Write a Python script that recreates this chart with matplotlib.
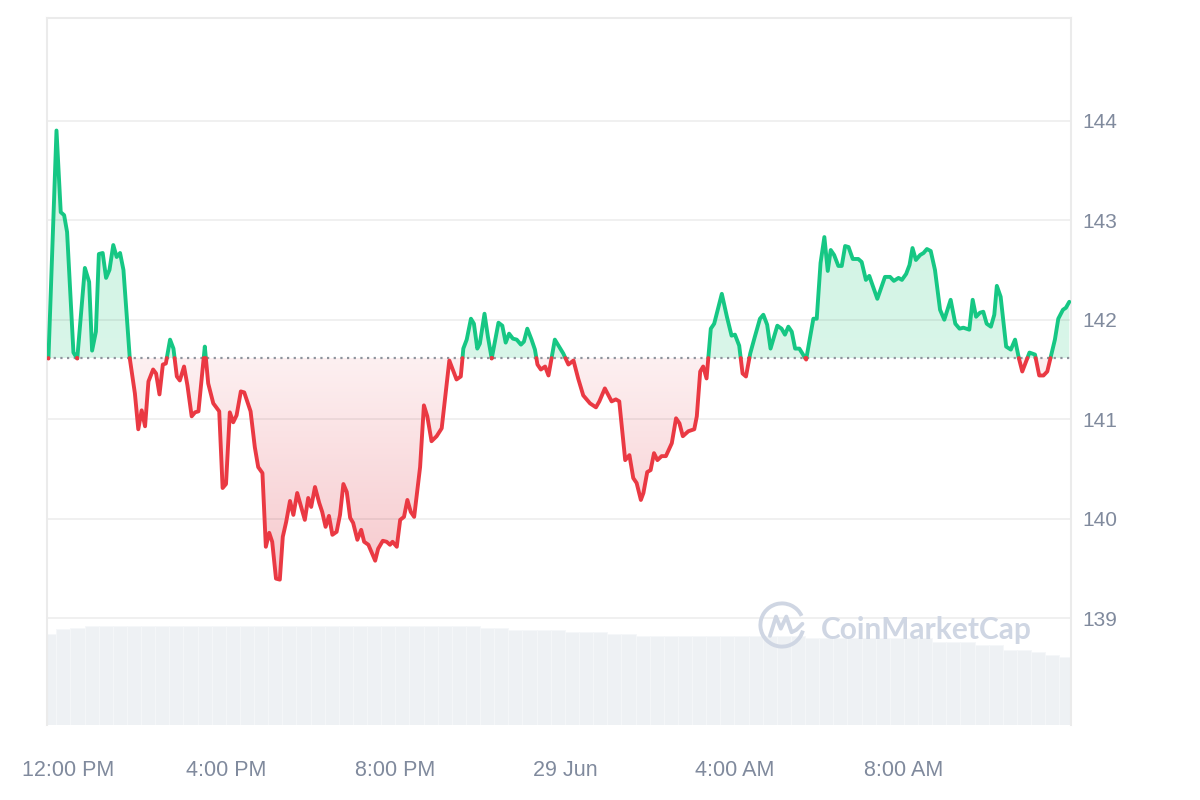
import numpy as np
import matplotlib.pyplot as plt
from matplotlib.colors import LinearSegmentedColormap
from matplotlib.patches import Arc
from matplotlib.path import Path
from matplotlib.transforms import ScaledTranslation

plt.rcParams['font.family'] = ['Liberation Sans', 'DejaVu Sans']

GREEN = '#16c784'
RED = '#ea3943'
LABEL = '#808a9d'

# price, hours since 00:00 on 28 Jun (values > 24 are 29 Jun)
hours = [11.81, 12.00, 12.10, 12.18, 12.25, 12.40, 12.49, 12.67, 12.77, 12.84,
         12.93, 13.00, 13.09, 13.17, 13.25, 13.34, 13.42, 13.50, 13.58, 13.73,
         13.85, 13.93, 14.01, 14.09, 14.17, 14.28, 14.35, 14.43, 14.51, 14.58,
         14.68, 14.76, 14.84, 14.91, 15.01, 15.09, 15.19, 15.27, 15.35, 15.50,
         15.58, 15.70, 15.84, 15.92, 16.00, 16.09, 16.17, 16.25, 16.35, 16.43,
         16.58, 16.68, 16.76, 16.86, 16.94, 17.02, 17.09, 17.18, 17.27, 17.34,
         17.42, 17.51, 17.59, 17.68, 17.76, 17.86, 17.94, 18.01, 18.10, 18.20,
         18.27, 18.35, 18.43, 18.51, 18.61, 18.69, 18.77, 18.85, 18.93, 19.00,
         19.10, 19.19, 19.26, 19.36, 19.52, 19.59, 19.70, 19.79, 19.87, 19.93,
         20.03, 20.11, 20.20, 20.28, 20.36, 20.44, 20.58, 20.67, 20.75, 20.85,
         20.97, 21.09, 21.27, 21.44, 21.54, 21.58, 21.60, 21.68, 21.78, 21.85,
         21.93, 21.99, 22.10, 22.18, 22.27, 22.43, 22.52, 22.60, 22.68, 22.77,
         22.86, 22.96, 23.03, 23.11, 23.21, 23.29, 23.35, 23.43, 23.53, 23.61,
         23.76, 23.96, 24.08, 24.20, 24.31, 24.43, 24.59, 24.73, 24.81, 24.94,
         25.10, 25.20, 25.28, 25.42, 25.52, 25.61, 25.69, 25.79, 25.85, 25.94,
         26.02, 26.10, 26.18, 26.28, 26.38, 26.52, 26.62, 26.70, 26.78, 26.91,
         27.05, 27.11, 27.19, 27.26, 27.34, 27.44, 27.52, 27.70, 27.82, 27.93,
         28.01, 28.11, 28.19, 28.27, 28.37, 28.48, 28.60, 28.68, 28.77, 28.85,
         29.01, 29.11, 29.19, 29.27, 29.35, 29.43, 29.53, 29.69, 29.86, 29.94,
         30.03, 30.12, 30.20, 30.27, 30.35, 30.45, 30.53, 30.61, 30.69, 30.79,
         30.92, 31.00, 31.10, 31.18, 31.37, 31.55, 31.67, 31.76, 31.87, 31.95,
         32.05, 32.13, 32.20, 32.28, 32.38, 32.46, 32.54, 32.63, 32.73, 32.85,
         32.95, 33.10, 33.21, 33.31, 33.40, 33.54, 33.62, 33.70, 33.79, 33.87,
         33.95, 34.05, 34.13, 34.19, 34.28, 34.41, 34.52, 34.62, 34.70, 34.79,
         34.96, 35.09, 35.19, 35.29, 35.38, 35.56, 35.64, 35.75, 35.82, 35.90]

price = [141.61, 143.90, 143.08, 143.05, 142.88, 141.67, 141.61, 142.52, 142.38, 141.69,
         141.88, 142.66, 142.67, 142.42, 142.50, 142.75, 142.63, 142.67, 142.50, 141.61,
         141.26, 140.90, 141.09, 140.93, 141.38, 141.50, 141.46, 141.25, 141.55, 141.56,
         141.80, 141.71, 141.43, 141.39, 141.53, 141.34, 141.03, 141.07, 141.08, 141.73,
         141.36, 141.16, 141.08, 140.31, 140.35, 141.07, 140.97, 141.04, 141.28, 141.27,
         141.08, 140.72, 140.52, 140.46, 139.72, 139.86, 139.77, 139.40, 139.39, 139.82,
         139.97, 140.18, 140.04, 140.26, 140.14, 139.99, 140.21, 140.12, 140.32, 140.16,
         140.07, 139.92, 140.03, 139.84, 139.87, 140.04, 140.35, 140.27, 140.01, 139.96,
         139.79, 139.89, 139.77, 139.74, 139.58, 139.70, 139.78, 139.77, 139.74, 139.77,
         139.72, 139.99, 140.02, 140.19, 140.07, 140.02, 140.52, 141.14, 141.03, 140.78,
         140.83, 140.91, 141.59, 141.40, 141.43, 141.61, 141.71, 141.80, 142.01, 141.96,
         141.71, 141.76, 142.06, 141.83, 141.61, 141.97, 141.94, 141.77, 141.86, 141.81,
         141.80, 141.75, 141.78, 141.91, 141.80, 141.70, 141.55, 141.50, 141.53, 141.44,
         141.80, 141.66, 141.55, 141.59, 141.41, 141.24, 141.16, 141.12, 141.18, 141.31,
         141.18, 141.20, 141.18, 140.59, 140.64, 140.41, 140.36, 140.19, 140.26, 140.47,
         140.49, 140.66, 140.59, 140.63, 140.63, 140.76, 141.01, 140.96, 140.83, 140.88,
         140.90, 141.03, 141.48, 141.53, 141.41, 141.91, 141.96, 142.26, 142.03, 141.84,
         141.85, 141.74, 141.46, 141.43, 141.66, 141.83, 142.01, 142.05, 141.95, 141.71,
         141.94, 141.91, 141.85, 141.93, 141.88, 141.71, 141.71, 141.60, 142.01, 142.01,
         142.57, 142.83, 142.49, 142.70, 142.65, 142.54, 142.54, 142.74, 142.73, 142.61,
         142.61, 142.58, 142.40, 142.44, 142.21, 142.43, 142.43, 142.39, 142.42, 142.40,
         142.46, 142.55, 142.72, 142.60, 142.65, 142.67, 142.71, 142.69, 142.50, 142.10,
         142.00, 142.20, 141.96, 141.91, 141.92, 141.90, 142.20, 142.03, 142.07, 142.08,
         141.96, 141.93, 142.05, 142.34, 142.23, 141.73, 141.70, 141.80, 141.63, 141.48,
         141.67, 141.65, 141.44, 141.44, 141.48, 141.80, 142.01, 142.10, 142.12, 142.18]

open_price = 141.615

# volume bars, one every 20 min starting 11:50
vol_start = 11.83
vol_step = 1 / 3
volume = [3.03, 3.20, 3.25, 3.30, 3.30, 3.30, 3.30, 3.30, 3.30, 3.30,
          3.30, 3.30, 3.30, 3.30, 3.30, 3.30, 3.30, 3.30, 3.30, 3.30,
          3.30, 3.30, 3.30, 3.30, 3.30, 3.30, 3.30, 3.30, 3.30, 3.30,
          3.30, 3.22, 3.22, 3.17, 3.17, 3.17, 3.17, 3.09, 3.09, 3.09,
          3.03, 3.03, 2.97, 2.97, 2.97, 2.97, 2.97, 2.97, 2.97, 2.97,
          2.97, 2.97, 2.97, 2.97, 2.89, 2.89, 2.89, 2.89, 2.89, 2.89,
          2.89, 2.89, 2.89, 2.78, 2.78, 2.78, 2.67, 2.67, 2.50, 2.50,
          2.45, 2.33, 2.28]

yticks = [139, 140, 141, 142, 143, 144]
xticks = [12, 16, 20, 24, 28, 32]
xlabels = ['12:00 PM', '4:00 PM', '8:00 PM', '29 Jun', '4:00 AM', '8:00 AM']

xlim = (11.776, 35.94)
ylim = (137.93, 145.03)

# split the line where it crosses the open price
t = np.array(hours)
p = np.array(price)
xs, ys = [t[0]], [p[0]]
for i in range(1, len(t)):
    a = p[i - 1] - open_price
    b = p[i] - open_price
    if a * b < 0:
        f = a / (a - b)
        xs.append(t[i - 1] + f * (t[i] - t[i - 1]))
        ys.append(open_price)
    xs.append(t[i])
    ys.append(p[i])
xs = np.array(xs)
ys = np.array(ys)

fig = plt.figure(figsize=(12, 8), dpi=100)

# volume in its own axes at the bottom
axv = fig.add_axes([47 / 1200, 75 / 800, 1024 / 1200, 99 / 800])
vx = vol_start + vol_step * np.arange(len(volume))
axv.bar(vx, volume, width=vol_step, color='#eef1f4', edgecolor='#f5f7f9', linewidth=0.6)
axv.set_xlim(xlim)
axv.set_ylim(0, 3.30)
axv.axis('off')

ax = fig.add_axes([47 / 1200, 75 / 800, 1024 / 1200, 707 / 800])
ax.patch.set_visible(False)


def gradient_fill(mask, c_bottom, c_top, y0, y1):
    coll = ax.fill_between(xs, ys, open_price, where=mask, interpolate=True,
                           color='none', linewidth=0)
    clip = Path.make_compound_path(*coll.get_paths())
    cmap = LinearSegmentedColormap.from_list('g', [c_bottom, c_top])
    grad = np.linspace(0, 1, 256).reshape(-1, 1)
    im = ax.imshow(grad, extent=[xlim[0], xlim[1], y0, y1], origin='lower',
                   aspect='auto', cmap=cmap, zorder=1)
    im.set_clip_path(clip, transform=ax.transData)


gradient_fill(ys <= open_price, '#f6c7cb', '#fdf0f1', 139.3, open_price)
gradient_fill(ys >= open_price, '#d9f6e9', '#cdf2e1', open_price, 143.95)

ax.plot(xs, np.where(ys >= open_price, ys, np.nan), color=GREEN, lw=2.8,
        solid_joinstyle='round', solid_capstyle='round', zorder=4)
ax.plot(xs, np.where(ys <= open_price, ys, np.nan), color=RED, lw=2.8,
        solid_joinstyle='round', solid_capstyle='round', zorder=4)
ax.axhline(open_price, color='#8e939c', lw=1.6, linestyle=(0, (1, 2)), zorder=3)

ax.set_xlim(xlim)
ax.set_ylim(ylim)
ax.set_yticks(yticks)
ax.set_yticklabels([str(v) for v in yticks])
ax.yaxis.tick_right()
ax.set_xticks(xticks)
ax.set_xticklabels(xlabels)
ax.tick_params(axis='y', length=0, pad=8, labelsize=15, labelcolor=LABEL)
ax.tick_params(axis='x', length=0, pad=25, labelsize=15.5, labelcolor=LABEL)
first = ax.get_xticklabels()[0]
first.set_transform(first.get_transform() + ScaledTranslation(11.5 / 100, 0, fig.dpi_scale_trans))

ax.grid(axis='y', color='black', alpha=0.065, lw=1.3, zorder=2)
ax.grid(axis='x', visible=False)
for side in ['left', 'right', 'top']:
    ax.spines[side].set_color('#ebebeb')
    ax.spines[side].set_linewidth(1.5)
ax.spines['bottom'].set_visible(False)

# watermark
fig.text(821 / 1200, 1 - 630 / 800, 'CoinMarketCap', fontsize=21.5, fontweight='bold',
         family=['Lato', 'DejaVu Sans'], color='#cfd6e3', va='center', ha='left', zorder=5)
logo = fig.add_axes([758 / 1200, 1 - 649 / 800, 48 / 1200, 48 / 800])
logo.set_xlim(-1, 1)
logo.set_ylim(-1, 1)
logo.axis('off')
logo.add_patch(Arc((0, 0), 1.8, 1.8, theta1=25, theta2=345, color='#cfd6e3', lw=2.8))
logo.plot([-0.5, -0.25, -0.05, 0.18, 0.4, 0.6, 0.85],
          [-0.45, 0.35, -0.15, 0.35, -0.3, -0.2, 0.05], color='#cfd6e3', lw=2.8,
          solid_joinstyle='round', solid_capstyle='round')

fig.savefig('out.png', dpi=100)
